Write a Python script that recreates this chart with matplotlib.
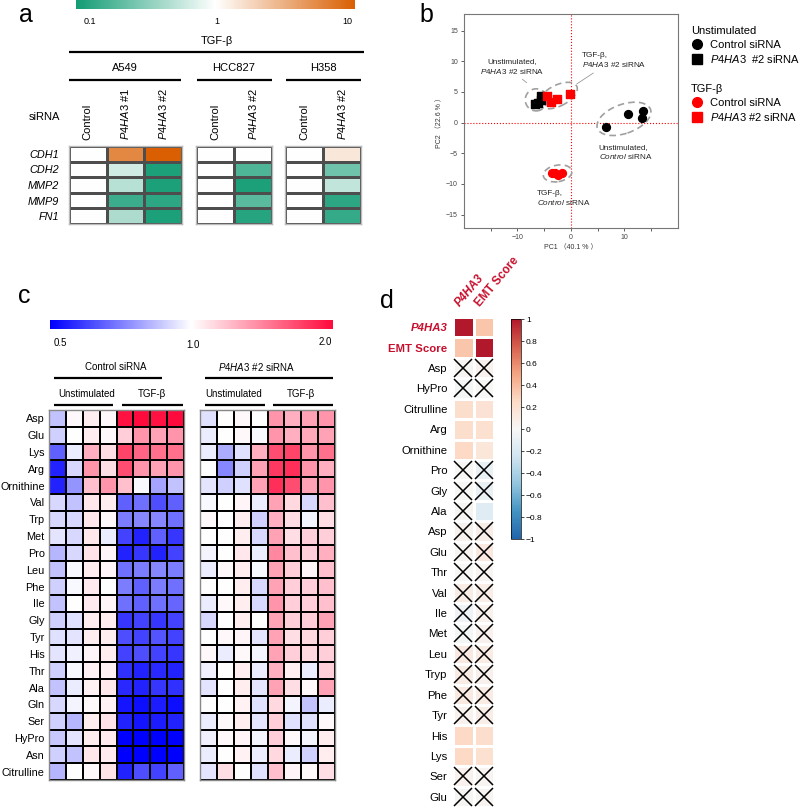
import numpy as np
import matplotlib.pyplot as plt
from matplotlib.colors import LinearSegmentedColormap, LogNorm, Normalize
from matplotlib.patches import Ellipse
from matplotlib.lines import Line2D
import matplotlib.colorbar as mcb

plt.rcParams['font.family'] = ['Liberation Sans', 'Noto Sans CJK JP', 'DejaVu Sans']
plt.rcParams['mathtext.fontset'] = 'custom'
plt.rcParams['mathtext.it'] = 'Liberation Sans:italic'
plt.rcParams['mathtext.rm'] = 'Liberation Sans'
plt.rcParams['mathtext.bf'] = 'Liberation Sans:bold'

W, H = 800, 808
P4 = r"$\mathit{P4HA3}$"

# ---------------- panel a: qPCR fold change ----------------
genes_a = ["CDH1", "CDH2", "MMP2", "MMP9", "FN1"]
cols_a549 = ["Control", P4 + " #1", P4 + " #2"]
cols_hcc = ["Control", P4 + " #2"]
cols_h358 = ["Control", P4 + " #2"]
fc_a549 = [[1, 5.5, 10.0], [1, 0.63, 0.11], [1, 0.5, 0.11], [1, 0.15, 0.13], [1, 0.45, 0.11]]
fc_hcc = [[1, 1.0], [1, 0.18], [1, 0.11], [1, 0.2], [1, 0.12]]
fc_h358 = [[1, 1.4], [1, 0.25], [1, 0.55], [1, 0.13], [1, 0.14]]

# ---------------- panel b: PCA ----------------
pc_unst_ctrl_x = [6.5, 10.6, 13.3, 13.5]
pc_unst_ctrl_y = [-0.65, 1.4, 0.8, 1.95]
pc_unst_kd_x = [-6.8, -6.2, -5.7, -5.6]
pc_unst_kd_y = [3.1, 3.2, 3.6, 4.4]
pc_tgf_ctrl_x = [-3.5, -2.9, -2.5, -1.7]
pc_tgf_ctrl_y = [-8.3, -8.3, -8.5, -8.3]
pc_tgf_kd_x = [-4.5, -3.7, -2.7, -0.1]
pc_tgf_kd_y = [4.4, 3.3, 3.9, 4.7]
# cluster ellipses: cx, cy, width, height, angle
clusters = [(-6.5, 3.7, 4.1, 3.6, 0), (-2.4, 4.4, 7.6, 3.5, 22),
            (9.9, 0.6, 10.4, 4.8, 16), (-2.5, -8.3, 5.4, 2.7, 8)]

# ---------------- panel c: amino acid fold change ----------------
aa_c = ["Asp", "Glu", "Lys", "Arg", "Ornithine", "Val", "Trp", "Met", "Pro", "Leu", "Phe",
        "Ile", "Gly", "Tyr", "His", "Thr", "Ala", "Gln", "Ser", "HyPro", "Asn", "Citrulline"]
ctrl_vals = [
    [0.85, 1.02, 1.05, 1.02, 1.95, 2.0, 1.95, 2.0],
    [0.88, 1.0, 1.05, 1.02, 1.15, 1.35, 1.3, 1.35],
    [0.65, 0.95, 1.25, 1.1, 1.7, 1.55, 1.5, 1.5],
    [0.55, 0.9, 1.35, 1.1, 1.65, 1.35, 1.3, 1.35],
    [0.55, 0.75, 1.2, 1.35, 1.2, 0.98, 0.78, 0.85],
    [0.9, 0.85, 1.07, 1.05, 0.65, 0.68, 0.62, 0.65],
    [0.9, 0.9, 1.07, 1.02, 0.7, 0.72, 0.72, 0.68],
    [0.93, 0.9, 1.07, 0.95, 0.6, 0.55, 0.65, 0.58],
    [0.82, 0.9, 1.08, 1.03, 0.55, 0.58, 0.55, 0.6],
    [0.85, 0.98, 1.05, 1.03, 0.68, 0.7, 0.72, 0.7],
    [0.88, 0.98, 1.06, 1.0, 0.7, 0.65, 0.7, 0.68],
    [0.85, 1.0, 1.06, 1.03, 0.68, 0.65, 0.68, 0.66],
    [0.88, 0.92, 1.05, 1.05, 0.58, 0.6, 0.58, 0.6],
    [0.92, 0.93, 1.05, 1.05, 0.62, 0.6, 0.63, 0.6],
    [0.93, 0.96, 1.03, 1.05, 0.6, 0.62, 0.6, 0.58],
    [0.88, 0.98, 1.04, 1.04, 0.57, 0.55, 0.56, 0.55],
    [0.85, 0.95, 1.04, 1.07, 0.56, 0.55, 0.58, 0.57],
    [0.9, 0.97, 1.02, 1.04, 0.53, 0.52, 0.54, 0.52],
    [0.88, 0.82, 1.05, 1.08, 0.55, 0.53, 0.54, 0.55],
    [0.86, 0.93, 1.05, 1.06, 0.5, 0.5, 0.5, 0.5],
    [0.88, 0.85, 1.07, 1.06, 0.5, 0.5, 0.5, 0.5],
    [0.82, 1.0, 1.02, 1.08, 0.55, 0.62, 0.6, 0.65],
]
kd_vals = [
    [0.92, 1.0, 1.02, 1.0, 1.35, 1.25, 1.3, 1.35],
    [0.95, 1.0, 1.02, 0.98, 1.35, 1.25, 1.28, 1.3],
    [0.95, 0.8, 0.92, 1.25, 1.65, 1.7, 1.35, 1.5],
    [1.0, 0.72, 0.88, 1.3, 1.75, 1.8, 1.35, 1.25],
    [0.93, 0.88, 0.92, 1.3, 1.8, 1.65, 1.3, 1.35],
    [0.98, 1.0, 1.03, 0.95, 1.3, 1.12, 0.9, 1.2],
    [1.02, 1.0, 1.05, 0.88, 1.25, 1.1, 0.97, 1.1],
    [1.0, 1.0, 1.05, 0.9, 1.3, 1.1, 1.15, 1.15],
    [0.97, 1.0, 1.07, 0.95, 1.4, 1.2, 1.15, 1.25],
    [0.95, 1.02, 1.05, 0.98, 1.3, 1.15, 1.03, 1.2],
    [1.0, 1.0, 1.05, 0.9, 1.3, 1.15, 1.15, 1.2],
    [0.95, 1.02, 1.05, 0.9, 1.35, 1.15, 1.15, 1.2],
    [0.9, 1.0, 1.05, 1.0, 1.3, 1.15, 1.15, 1.3],
    [1.0, 1.02, 1.03, 0.93, 1.3, 1.1, 1.12, 1.15],
    [1.02, 0.95, 1.02, 0.97, 1.3, 1.15, 1.12, 1.15],
    [0.96, 1.0, 1.05, 0.95, 1.25, 1.05, 0.95, 1.15],
    [0.93, 1.0, 1.05, 0.93, 1.3, 1.1, 1.02, 1.3],
    [1.0, 1.0, 1.04, 0.92, 1.12, 0.97, 0.85, 0.95],
    [0.95, 1.02, 1.05, 0.93, 1.15, 0.92, 0.92, 1.02],
    [0.96, 1.02, 1.03, 0.97, 1.15, 1.02, 0.97, 1.05],
    [0.95, 1.0, 1.04, 0.95, 1.12, 0.95, 0.88, 1.05],
    [0.93, 1.1, 1.0, 0.92, 1.2, 1.03, 1.02, 1.1],
]

# ---------------- panel d: correlations ----------------
rows_d = ["P4HA3", "EMT Score", "Asp", "HyPro", "Citrulline", "Arg", "Ornithine", "Pro", "Gly",
          "Ala", "Asp", "Glu", "Thr", "Val", "Ile", "Met", "Leu", "Tryp", "Phe", "Tyr", "His",
          "Lys", "Ser", "Glu"]
cols_d = ["P4HA3", "EMT Score"]
corr_p4 = [1.0, 0.35, 0.03, -0.02, 0.22, 0.22, 0.25, 0.0, 0.0, 0.02, 0.04, 0.03, 0.0, 0.1,
           -0.05, -0.02, 0.12, 0.1, 0.12, 0.05, 0.25, 0.25, 0.05, 0.02]
corr_emt = [0.35, 1.0, 0.05, 0.0, 0.18, 0.2, 0.15, -0.08, -0.08, -0.15, 0.08, 0.12, 0.03, 0.08,
            0.05, 0.05, 0.1, 0.06, 0.1, 0.08, 0.22, 0.2, 0.03, 0.03]
nonsig_p4 = [0, 0, 1, 1, 0, 0, 0, 1, 1, 1, 1, 1, 1, 1, 1, 1, 1, 1, 1, 1, 0, 0, 1, 1]
nonsig_emt = [0, 0, 1, 1, 0, 0, 0, 1, 1, 0, 1, 1, 1, 1, 1, 1, 1, 1, 1, 1, 0, 0, 1, 1]

RED_LBL = "#c8102e"

cmap_a = LinearSegmentedColormap.from_list("gw_o", ["#139c74", "#ffffff", "#d95f02"])
norm_a = LogNorm(0.1, 10)
cmap_c = LinearSegmentedColormap.from_list("bwr2", ["#0000ff", "#ffffff", "#ff0a3c"])
norm_c = LogNorm(0.5, 2.0)
cmap_d = LinearSegmentedColormap.from_list(
    "rdbu", ["#2166ac", "#4393c3", "#92c5de", "#d1e5f0", "#f7f7f7",
             "#fddbc7", "#f4a582", "#d6604d", "#b2182b"])
norm_d = Normalize(-1, 1)


fig = plt.figure(figsize=(W / 100, H / 100), dpi=100)


def px_axes(x0, y0, x1, y1, **kw):
    return fig.add_axes([x0 / W, 1 - y1 / H, (x1 - x0) / W, (y1 - y0) / H], **kw)


def heat(ax, data, cmap, norm, edge, lw, spine="#999999"):
    data = np.asarray(data, dtype=float)
    ax.pcolormesh(data, cmap=cmap, norm=norm, edgecolors=edge, linewidth=lw)
    ax.set_xlim(0, data.shape[1])
    ax.set_ylim(data.shape[0], 0)
    ax.set_xticks([])
    ax.set_yticks([])
    for s in ax.spines.values():
        s.set_color(spine)
        s.set_linewidth(1.0)
    return data


# ---- panel a heatmaps
ax_a1 = px_axes(69, 146, 182, 224)
ax_a2 = px_axes(196, 146, 272, 224)
ax_a3 = px_axes(285, 146, 361, 224)
for ax, d, cl in [(ax_a1, fc_a549, cols_a549), (ax_a2, fc_hcc, cols_hcc), (ax_a3, fc_h358, cols_h358)]:
    heat(ax, d, cmap_a, norm_a, "#4d4d4d", 0.9, spine="#bbbbbb")
    ax.xaxis.tick_top()
    ax.set_xticks(np.arange(len(cl)) + 0.5)
    ax.set_xticklabels(cl, rotation=90, fontsize=8)
    ax.tick_params(axis="x", length=0, pad=4)
ax_a1.set_yticks(np.arange(len(genes_a)) + 0.5)
ax_a1.set_yticklabels(genes_a, fontsize=7.8, style="italic")
ax_a1.tick_params(axis="y", length=0, pad=7)

cax_a = px_axes(76, -2, 355, 9)
cb = mcb.ColorbarBase(cax_a, cmap=cmap_a, norm=norm_a, orientation="horizontal")
cb.set_ticks([])
cb.minorticks_off()
cb.outline.set_visible(False)

# ---- panel b PCA
ax_b = px_axes(464, 14, 678, 228)
ax_b.scatter(pc_unst_ctrl_x, pc_unst_ctrl_y, marker="o", s=32, color="black", zorder=3)
ax_b.scatter(pc_unst_kd_x, pc_unst_kd_y, marker="s", s=26, color="black", zorder=3)
ax_b.scatter(pc_tgf_ctrl_x, pc_tgf_ctrl_y, marker="o", s=32, color="red", zorder=3)
ax_b.scatter(pc_tgf_kd_x, pc_tgf_kd_y, marker="s", s=26, color="red", zorder=3)
for cx, cy, w, h, ang in clusters:
    ax_b.add_patch(Ellipse((cx, cy), w, h, angle=ang, fill=False, ls=(0, (4, 2.5)),
                           lw=1.2, ec="#a0a0a0", zorder=2))
ax_b.axhline(0, color="red", ls=":", lw=0.8, zorder=1)
ax_b.axvline(0, color="red", ls=":", lw=0.8, zorder=1)
ax_b.set_xlim(-20, 20)
ax_b.set_ylim(-17.2, 17.7)
ax_b.set_xticks([-10, 0, 10])
ax_b.set_xticks([-15, -5, 5, 15], minor=True)
ax_b.set_yticks([-15, -10, -5, 0, 5, 10, 15])
ax_b.tick_params(which="both", direction="out", length=2.5, width=0.6, labelsize=5,
                 colors="#444444", pad=2)
for s in ax_b.spines.values():
    s.set_color("#777777")
    s.set_linewidth(0.8)
ax_b.set_xlabel("PC1 （40.1 % ）", fontsize=5, labelpad=2, color="#333333")
ax_b.set_ylabel("PC2 （22.6 % ）", fontsize=5, labelpad=2, color="#333333")
af = dict(fontsize=5.9, color="#222222", linespacing=1.25)
ax_b.annotate("Unstimulated,\n" + P4 + " #2 siRNA", xy=(-8.3, 6.5), xytext=(-11.0, 9.1),
              ha="center", va="center",
              arrowprops=dict(arrowstyle="-", color="#999999", lw=0.6, relpos=(0.59, 0),
                              shrinkA=1, shrinkB=0), **af)
ax_b.annotate("TGF-β,\n" + P4 + " #2 siRNA", xy=(1.1, 6.3), xytext=(2.05, 10.1),
              ha="left", va="center",
              arrowprops=dict(arrowstyle="-", color="#999999", lw=0.6, relpos=(0.26, 0),
                              shrinkA=1, shrinkB=0), **af)
ax_b.text(5.2, -4.9, "Unstimulated,\n" + r"$\mathit{Control}$ siRNA", ha="left", va="center", **af)
ax_b.text(-6.35, -12.4, "TGF-β,\n" + r"$\mathit{Control}$ siRNA", ha="left", va="center", **af)

h_unst = [Line2D([], [], marker="o", ls="none", color="black", ms=7),
          Line2D([], [], marker="s", ls="none", color="black", ms=6.5)]
h_tgf = [Line2D([], [], marker="o", ls="none", color="red", ms=7),
         Line2D([], [], marker="s", ls="none", color="red", ms=6.5)]
lkw = dict(loc="upper left", frameon=False, fontsize=8, title_fontsize=8, alignment="left",
           handletextpad=0.75, labelspacing=0.33, borderpad=0, borderaxespad=0, handlelength=1.0)
leg1 = fig.legend(h_unst, ["Control siRNA", P4 + "  #2 siRNA"], title="Unstimulated",
                  bbox_to_anchor=(691 / W, 1 - 26 / H), **lkw)
leg2 = fig.legend(h_tgf, ["Control siRNA", P4 + " #2 siRNA"], title="TGF-β",
                  bbox_to_anchor=(691 / W, 1 - 84 / H), **lkw)

# ---- panel c heatmaps
ax_c1 = px_axes(49, 410, 184, 780)
ax_c2 = px_axes(200, 410, 335, 780)
heat(ax_c1, ctrl_vals, cmap_c, norm_c, "black", 1.3, spine="#888888")
heat(ax_c2, kd_vals, cmap_c, norm_c, "black", 1.3, spine="#888888")
ax_c1.set_yticks(np.arange(len(aa_c)) + 0.5)
ax_c1.set_yticklabels(aa_c, fontsize=7.8)
ax_c1.tick_params(axis="y", length=0, pad=3)

cax_c = px_axes(50, 320, 333, 329)
cb = mcb.ColorbarBase(cax_c, cmap=cmap_c, norm=norm_c, orientation="horizontal")
cb.set_ticks([])
cb.minorticks_off()
cb.outline.set_visible(False)

# ---- panel d correlation heatmap
ax_d = px_axes(453, 317, 494, 807)
corr = np.column_stack([corr_p4, corr_emt])
heat(ax_d, corr, cmap_d, norm_d, "white", 1.0, spine="white")
for s in ax_d.spines.values():
    s.set_visible(False)
ns = np.column_stack([nonsig_p4, nonsig_emt]).astype(bool)
rr, cc = np.nonzero(ns)
ax_d.plot(cc + 0.5, rr + 0.5, ls="none", marker="x", ms=13, mew=1.1, color="black")
ax_d.set_yticks(np.arange(len(rows_d)) + 0.5)
ax_d.set_yticklabels(rows_d, fontsize=8.2)
ax_d.tick_params(axis="y", length=0, pad=4)
yl = ax_d.get_yticklabels()
yl[0].set_color(RED_LBL); yl[0].set_fontweight("bold"); yl[0].set_fontstyle("italic")
yl[1].set_color(RED_LBL); yl[1].set_fontweight("bold")
for j, name in enumerate(cols_d):
    ax_d.text(j + 0.45, -0.4, name, rotation=50, rotation_mode="anchor", ha="left", va="bottom",
              fontsize=8.5, color=RED_LBL, fontweight="bold",
              fontstyle="italic" if j == 0 else "normal", clip_on=False)

cax_d = px_axes(511, 319, 521, 539)
cb = mcb.ColorbarBase(cax_d, cmap=cmap_d, norm=norm_d, orientation="vertical")
cb.set_ticks(np.round(np.arange(-1, 1.01, 0.2), 1))
cb.set_ticklabels(["−1", "−0.8", "−0.6", "−0.4", "−0.2", "0", "0.2", "0.4", "0.6", "0.8", "1"])
cb.ax.tick_params(labelsize=6, length=2, width=0.5, pad=1.5)
cb.outline.set_linewidth(0.5)

# ---- overlay: panel letters, group brackets, colour bar labels
ov = fig.add_axes([0, 0, 1, 1], zorder=10)
ov.set_xlim(0, W)
ov.set_ylim(H, 0)
ov.axis("off")
ov.patch.set_alpha(0)


def txt(x, y, s, **kw):
    kw.setdefault("ha", "center")
    kw.setdefault("va", "center")
    ov.text(x, y, s, **kw)


def bracket(x0, x1, y, lw=1.6):
    ov.plot([x0, x1], [y, y], color="black", lw=lw, solid_capstyle="butt")


for lab, x, y in [("a", 26, 22), ("b", 426, 22), ("c", 24, 303), ("d", 387, 308)]:
    txt(x, y, lab, fontsize=18, va="baseline")

# panel a
txt(90, 21, "0.1", fontsize=6.5)
txt(217, 21, "1", fontsize=6.5)
txt(347, 21, "10", fontsize=6.5)
txt(217, 41, "TGF-β", fontsize=8)
bracket(69, 364, 52)
txt(125, 68, "A549", fontsize=8)
bracket(69, 181, 80)
txt(234, 68, "HCC827", fontsize=8)
bracket(197, 272, 80)
txt(323, 68, "H358", fontsize=8)
bracket(286, 361, 80)
txt(60, 117, "siRNA", fontsize=8, ha="right")

# panel c
txt(60, 343, "0.5", fontsize=7)
txt(193, 345, "1.0", fontsize=7)
txt(325, 342, "2.0", fontsize=7)
txt(116, 367, "Control siRNA", fontsize=7)
bracket(54, 162, 378)
txt(256, 367, P4 + " #2 siRNA", fontsize=7)
bracket(205, 333, 378)
txt(87, 394, "Unstimulated", fontsize=7)
bracket(54, 113, 405)
txt(152, 394, "TGF-β", fontsize=7)
bracket(122, 183, 405)
txt(234, 394, "Unstimulated", fontsize=7)
bracket(205, 265, 405)
txt(301, 394, "TGF-β", fontsize=7)
bracket(273, 333, 405)

fig.savefig("out.png", dpi=100)
